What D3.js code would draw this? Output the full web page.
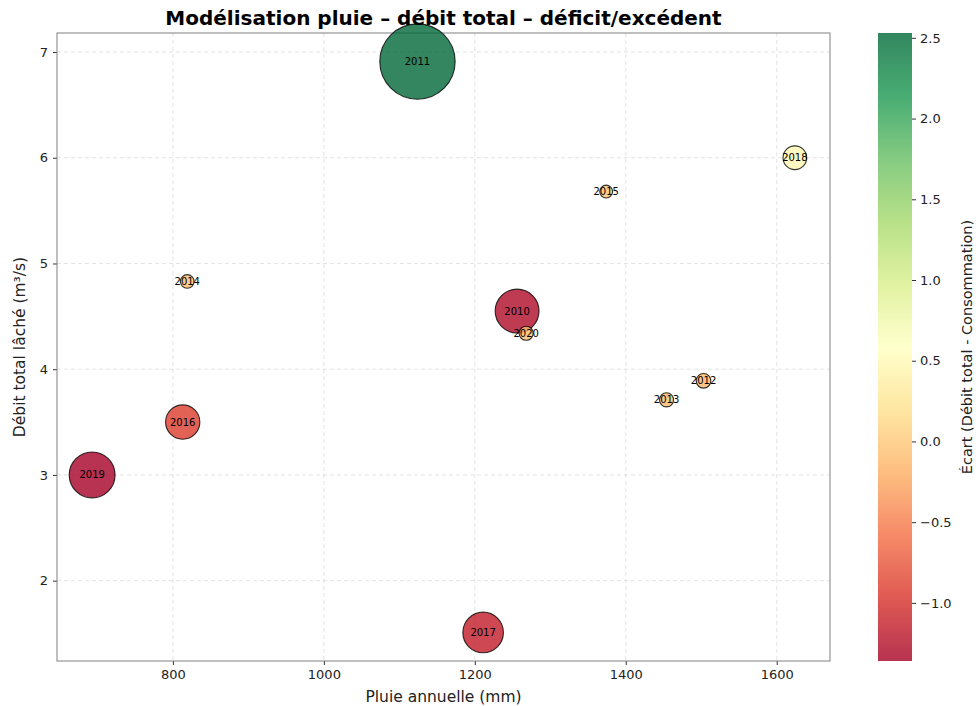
<!DOCTYPE html>
<html>
<head>
<meta charset="utf-8">
<script src="https://cdn.jsdelivr.net/npm/d3@7"></script>
<style>
  html, body { margin: 0; padding: 0; background: #fff; }
  svg { display: block; font-family: "DejaVu Sans", sans-serif; }
</style>
</head>
<body>
<svg id="chart" width="979" height="706"></svg>
<script>
// Années, pluie annuelle (mm), débit total lâché (m³/s), écart débit - consommation
const annees = ["2010", "2011", "2012", "2013", "2014", "2015", "2016", "2017", "2018", "2019", "2020"];
const pluie  = [1256, 1124, 1503, 1454, 819, 1374, 813, 1211, 1624, 693, 1268];
const debit  = [4.55, 6.91, 3.89, 3.71, 4.83, 5.68, 3.50, 1.51, 6.00, 3.00, 4.34];
const ecart  = [-1.28, 2.53, -0.12, -0.10, -0.08, -0.05, -0.90, -1.15, 0.48, -1.36, -0.10];

const xTicks = [800, 1000, 1200, 1400, 1600];
const yTicks = [2, 3, 4, 5, 6, 7];
const cTicks = [-1.0, -0.5, 0.0, 0.5, 1.0, 1.5, 2.0, 2.5];

const titre = "Modélisation pluie – débit total – déficit/excédent";
const labelX = "Pluie annuelle (mm)";
const labelY = "Débit total lâché (m³/s)";
const labelC = "Écart (Débit total - Consommation)";

const svg = d3.select("#chart");
const plot = { left: 57, right: 830, top: 33, bottom: 661 };
const fmtMinus = s => s.replace("-", "\u2212");

// Domaines avec marge de 5 %
function padded(vals) {
  const [lo, hi] = d3.extent(vals);
  const m = (hi - lo) * 0.05;
  return [lo - m, hi + m];
}

const x = d3.scaleLinear().domain(padded(pluie)).range([plot.left, plot.right]);
const y = d3.scaleLinear().domain(padded(debit)).range([plot.bottom, plot.top]);

// Palette RdYlGn (11 classes, interpolation linéaire)
const rdylgn = d3.schemeRdYlGn[11];
const cExt = d3.extent(ecart);
const colorT = d3.scaleLinear()
  .domain(d3.range(11).map(i => i / 10))
  .range(rdylgn)
  .interpolate(d3.interpolateRgb);
const cNorm = d3.scaleLinear().domain(cExt).range([0, 1]).clamp(true);
const color = v => colorT(cNorm(v));

// Taille des bulles selon l'écart absolu
const maxAbs = d3.max(ecart, v => Math.abs(v));
const r = d3.scaleLinear().domain([0, maxAbs]).range([5.8, 5.8 + 12.6 * maxAbs]);

// Grille
const grid = svg.append("g");
grid.selectAll("line.gx").data(xTicks).join("line")
  .attr("x1", d => x(d)).attr("x2", d => x(d))
  .attr("y1", plot.top).attr("y2", plot.bottom)
  .attr("stroke", "#b0b0b0").attr("stroke-opacity", 0.45)
  .attr("stroke-dasharray", "4,3").attr("stroke-width", 0.8);
grid.selectAll("line.gy").data(yTicks).join("line")
  .attr("x1", plot.left).attr("x2", plot.right)
  .attr("y1", d => y(d)).attr("y2", d => y(d))
  .attr("stroke", "#b0b0b0").attr("stroke-opacity", 0.45)
  .attr("stroke-dasharray", "4,3").attr("stroke-width", 0.8);

// Axes
const xAxis = svg.append("g")
  .attr("transform", `translate(0,${plot.bottom})`)
  .call(d3.axisBottom(x).tickValues(xTicks).tickSize(4).tickPadding(5).tickFormat(d3.format("d")));
const yAxis = svg.append("g")
  .attr("transform", `translate(${plot.left},0)`)
  .call(d3.axisLeft(y).tickValues(yTicks).tickSize(4).tickPadding(5).tickFormat(d3.format("d")));
[xAxis, yAxis].forEach(a => {
  a.select(".domain").remove();
  a.selectAll(".tick line").attr("stroke", "#333");
  a.selectAll(".tick text").attr("fill", "#222").style("font-size", "13px")
    .style("font-family", "DejaVu Sans, sans-serif");
});

// Cadre
svg.append("rect")
  .attr("x", plot.left).attr("y", plot.top)
  .attr("width", plot.right - plot.left).attr("height", plot.bottom - plot.top)
  .attr("fill", "none").attr("stroke", "#808080").attr("stroke-width", 1);

// Bulles
const idx = d3.range(annees.length);
svg.append("g").selectAll("circle").data(idx).join("circle")
  .attr("cx", i => x(pluie[i]))
  .attr("cy", i => y(debit[i]))
  .attr("r", i => r(Math.abs(ecart[i])))
  .attr("fill", i => color(ecart[i]))
  .attr("fill-opacity", 0.8)
  .attr("stroke", "#000").attr("stroke-opacity", 0.8).attr("stroke-width", 1.1);

// Étiquettes des années
svg.append("g").selectAll("text").data(idx).join("text")
  .attr("x", i => x(pluie[i]))
  .attr("y", i => y(debit[i]))
  .attr("text-anchor", "middle").attr("dominant-baseline", "central")
  .style("font-size", "10px").attr("fill", "#000")
  .text(i => annees[i]);

// Titre et libellés d'axes
svg.append("text").attr("x", (plot.left + plot.right) / 2).attr("y", 25)
  .attr("text-anchor", "middle").style("font-size", "20px").style("font-weight", "bold")
  .text(titre);
svg.append("text").attr("x", (plot.left + plot.right) / 2).attr("y", 702)
  .attr("text-anchor", "middle").style("font-size", "15.5px").attr("fill", "#222")
  .text(labelX);
svg.append("text")
  .attr("transform", `translate(25,${(plot.top + plot.bottom) / 2}) rotate(-90)`)
  .attr("text-anchor", "middle").style("font-size", "15.5px").attr("fill", "#222")
  .text(labelY);

// Barre de couleur
const cb = { x: 878, w: 34, top: plot.top, bottom: plot.bottom };
const cy = d3.scaleLinear().domain(cExt).range([cb.bottom, cb.top]);
const grad = svg.append("defs").append("linearGradient")
  .attr("id", "cbar").attr("x1", 0).attr("y1", 1).attr("x2", 0).attr("y2", 0);
d3.range(0, 1.0001, 0.02).forEach(t => {
  grad.append("stop").attr("offset", t).attr("stop-color", colorT(t)).attr("stop-opacity", 0.8);
});
svg.append("rect").attr("x", cb.x).attr("y", cb.top)
  .attr("width", cb.w).attr("height", cb.bottom - cb.top)
  .attr("fill", "url(#cbar)");
const cAxis = svg.append("g")
  .attr("transform", `translate(${cb.x + cb.w},0)`)
  .call(d3.axisRight(cy).tickValues(cTicks).tickSize(4).tickPadding(4)
    .tickFormat(d => fmtMinus(d3.format(".1f")(d))));
cAxis.select(".domain").remove();
cAxis.selectAll(".tick line").attr("stroke", "#333");
cAxis.selectAll(".tick text").attr("fill", "#222").style("font-size", "13px")
  .style("font-family", "DejaVu Sans, sans-serif");
svg.append("text")
  .attr("transform", `translate(972,${(cb.top + cb.bottom) / 2}) rotate(-90)`)
  .attr("text-anchor", "middle").style("font-size", "14.5px").attr("fill", "#222")
  .text(labelC);
</script>
</body>
</html>
